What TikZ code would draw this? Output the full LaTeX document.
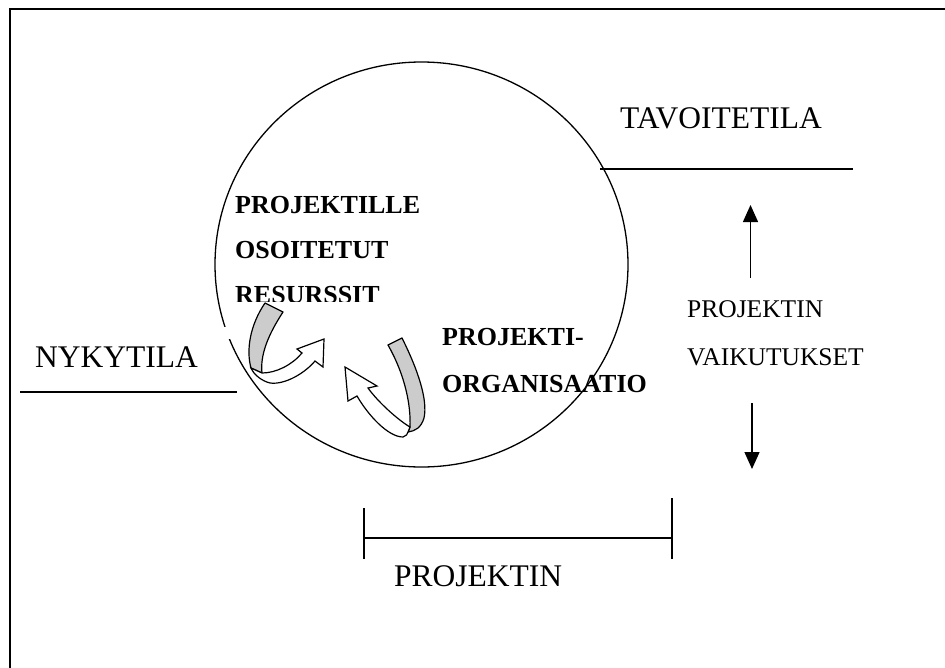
\documentclass[tikz,border=0pt]{standalone}
\usepackage{fontspec}
\setmainfont{Liberation Serif}
\usetikzlibrary{arrows.meta}
\tikzset{%
  txt/.style = { inner sep=0pt, anchor=base west, font=\fontsize{31.5}{36}\selectfont },
  smalltxt/.style = { inner sep=0pt, anchor=base west, font=\fontsize{25.5}{30}\selectfont },
  boldtxt/.style = { inner sep=0pt, anchor=base west, font=\bfseries\fontsize{26}{30}\selectfont },
  level/.style = { line width=1.3pt },
  ribbon/.style = { draw, fill=gray!40, line width=1.2pt, line join=round },
  front/.style = { draw, fill=white, line width=1.2pt, line join=miter },
  effect/.style = { line width=1.3pt, -{Triangle[length=17pt,width=15pt]} }
}
\begin{document}
\begin{tikzpicture}[x=1pt,y=-1pt]

  \useasboundingbox (0,0) rectangle (945,667);
  \clip (0,0) rectangle (945,667);

  % Frame
  \draw[line width=2pt] (10,680) -- (10,9) -- (960,9);

  % Circle
  \draw[line width=1.3pt] (421.5,264.5) ellipse [x radius=206.5, y radius=202.5];
  \fill[white] (220,327) rectangle (232,339);

  % States
  \node[txt] (goal) at (620,128) {TAVOITETILA};
  \draw[level] (600,169) coordinate (g1) -- (853,169) coordinate (g2);
  \node[txt] (now) at (35,367) {NYKYTILA};
  \draw[level] (20,392) coordinate (n1) -- (237,392) coordinate (n2);

  % Texts inside
  \node[boldtxt] (res1) at (235,213) {PROJEKTILLE};
  \node[boldtxt] (res2) at (235,258) {OSOITETUT};
  \begin{scope}
    \clip (225,270) rectangle (440,301);
    \node[boldtxt] (res3) at (235,303) {RESURSSIT};
  \end{scope}
  \node[boldtxt] (org1) at (442,345) {PROJEKTI-};
  \node[boldtxt] (org2) at (442,392) {ORGANISAATIO};

  % Left turn arrow
  \draw[ribbon] (265,303) -- (283,312) .. controls (268,335) and (260,355) .. (262,373)
    -- (251,368) .. controls (246,350) and (250,325) .. cycle;
  \draw[front] (262,373) .. controls (276,373) and (292,365) .. (302,353) -- (297,349) -- (324,339)
    -- (323,367) -- (315,361) .. controls (305,373) and (285,385) .. (270,383)
    .. controls (262,381) and (254,375) .. (251,368) -- cycle;

  % Right turn arrow
  \draw[ribbon] (388,345) -- (402,338) .. controls (418,370) and (428,400) .. (424,418)
    .. controls (421,428) and (415,431) .. (408,432)
    -- (410,427) .. controls (411,405) and (405,375) .. cycle;
  \draw[front] (410,427) .. controls (398,420) and (378,402) .. (368,388) -- (377,386) -- (345,367)
    -- (348,401) -- (357,396) .. controls (368,415) and (388,437) .. (403,437)
    .. controls (406,436) and (408,434) .. (408,432) -- cycle;

  % Effects
  \node[smalltxt] (eff1) at (687,317) {PROJEKTIN};
  \node[smalltxt] (eff2) at (687,365) {VAIKUTUKSET};
  \coordinate (up0) at (750.5,278);
  \coordinate (up1) at (750.5,205);
  \coordinate (dn0) at (752,403);
  \coordinate (dn1) at (752,469);
  \draw[effect] (up0) -- (up1);
  \draw[effect] (dn0) -- (dn1);

  % Duration
  \coordinate (d1) at (364,538);
  \coordinate (d2) at (672,538);
  \draw[level] (d1) -- (d2);
  \draw[level] (364,508) -- (364,559);
  \draw[level] (672,498) -- (672,559);
  \node[txt] (dur) at (394,586) {PROJEKTIN};

\end{tikzpicture}
\end{document}
